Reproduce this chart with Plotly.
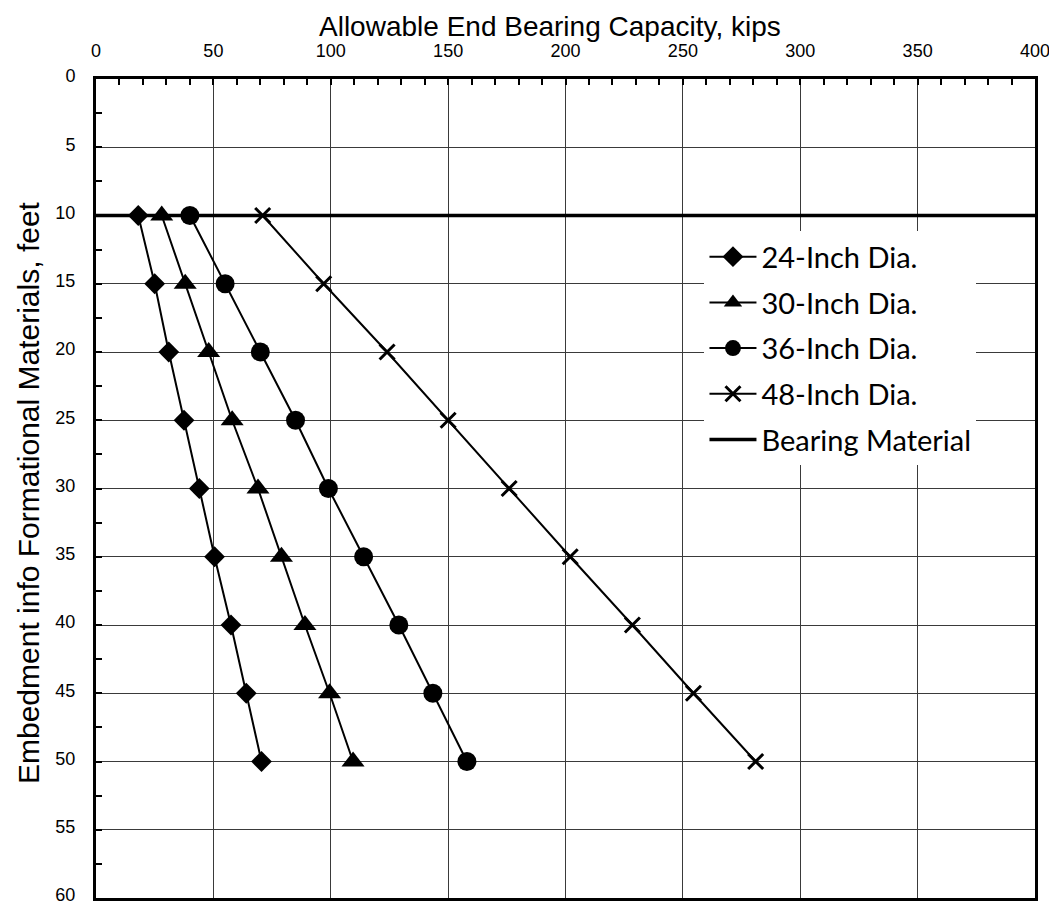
import plotly.graph_objects as go

# Data
depth_ft = [10, 15, 20, 25, 30, 35, 40, 45, 50]
cap_24in = [18, 25, 31, 37.5, 44, 50.5, 57.5, 64, 70.5]
cap_30in = [28, 38, 48, 58, 69, 79, 89, 99.5, 109.5]
cap_36in = [40, 55, 70, 85, 99, 114, 129, 143.5, 158]
cap_48in = [71, 97, 124, 150, 176, 202, 228.5, 254.5, 281]
bearing_depth = 10
bearing_x = [0, 400]

series_names = ["24-Inch Dia.", "30-Inch Dia.", "36-Inch Dia.", "48-Inch Dia."]
series_vals = [cap_24in, cap_30in, cap_36in, cap_48in]
symbols = ["diamond", "triangle-up", "circle", "x-thin-open"]
sizes = [16, 20, 19, 15]

TICK_FONT = dict(family="Liberation Sans, Arial, sans-serif", size=18, color="black")
TITLE_FONT = dict(family="Liberation Sans, Arial, sans-serif", size=28, color="black")
YTITLE_FONT = dict(family="Liberation Sans, Arial, sans-serif", size=30, color="black")

fig = go.Figure()
for i, (name, vals, sym, sz) in enumerate(zip(series_names, series_vals, symbols, sizes)):
    marker = dict(symbol=sym, size=sz, color="black")
    if sym.startswith("x-thin"):
        marker["line"] = dict(color="black", width=3)
    fig.add_trace(go.Scatter(
        x=vals, y=depth_ft, name=name, mode="lines+markers",
        line=dict(color="black", width=2), marker=marker,
        legendgroup=f"g{i}", cliponaxis=False,
    ))

fig.add_trace(go.Scatter(
    x=bearing_x, y=[bearing_depth] * len(bearing_x), name="Bearing Material",
    mode="lines", line=dict(color="black", width=3.5), legendgroup="g4",
))

# The page body has an 8px margin, so the figure is sized to fit the window.
fig.update_layout(
    width=1049, height=897,
    margin=dict(l=88, r=22, t=71, b=7),
    paper_bgcolor="white", plot_bgcolor="white",
    showlegend=True,
    legend=dict(
        x=0.648, y=0.814, xanchor="left", yanchor="top",
        bgcolor="white", borderwidth=0,
        font=dict(family="Lato, Calibri, sans-serif", size=29, color="black"),
        tracegroupgap=5, itemwidth=47,
    ),
    annotations=[
        dict(text="Allowable End Bearing Capacity, kips", x=0, y=1.0, xref="paper", yref="paper",
             xshift=542 - 88, yshift=71 - 1, xanchor="center", yanchor="top", showarrow=False, font=TITLE_FONT),
        dict(text="Embedment info Formational Materials, feet", x=0, y=0.5, xref="paper", yref="paper",
             xshift=-88 + 2, yshift=-4, xanchor="left", yanchor="middle", textangle=-90, showarrow=False, font=YTITLE_FONT),
    ],
)

fig.update_xaxes(
    range=[0, 400], side="top", dtick=50, tick0=0, automargin=False,
    showgrid=True, gridcolor="#3a3a3a", gridwidth=1,
    showline=True, linecolor="black", linewidth=3, mirror=True,
    ticks="inside", ticklen=6, tickwidth=2, tickcolor="black",
    minor=dict(dtick=10, ticks="inside", ticklen=6, tickwidth=2, tickcolor="black", showgrid=False),
    tickfont=TICK_FONT, ticklabelstandoff=12, ticklabeloverflow="allow", zeroline=False,
)
fig.update_yaxes(
    range=[60, 0], dtick=5, tick0=0, automargin=False,
    showgrid=True, gridcolor="#3a3a3a", gridwidth=1,
    showline=True, linecolor="black", linewidth=3, mirror=True,
    ticks="inside", ticklen=6, tickwidth=2, tickcolor="black",
    minor=dict(dtick=2.5, ticks="inside", ticklen=6, tickwidth=2, tickcolor="black", showgrid=False),
    tickfont=TICK_FONT, ticklabelstandoff=14, ticklabelshift=3, ticklabeloverflow="allow", zeroline=False,
)

fig.write_html("out.html")
